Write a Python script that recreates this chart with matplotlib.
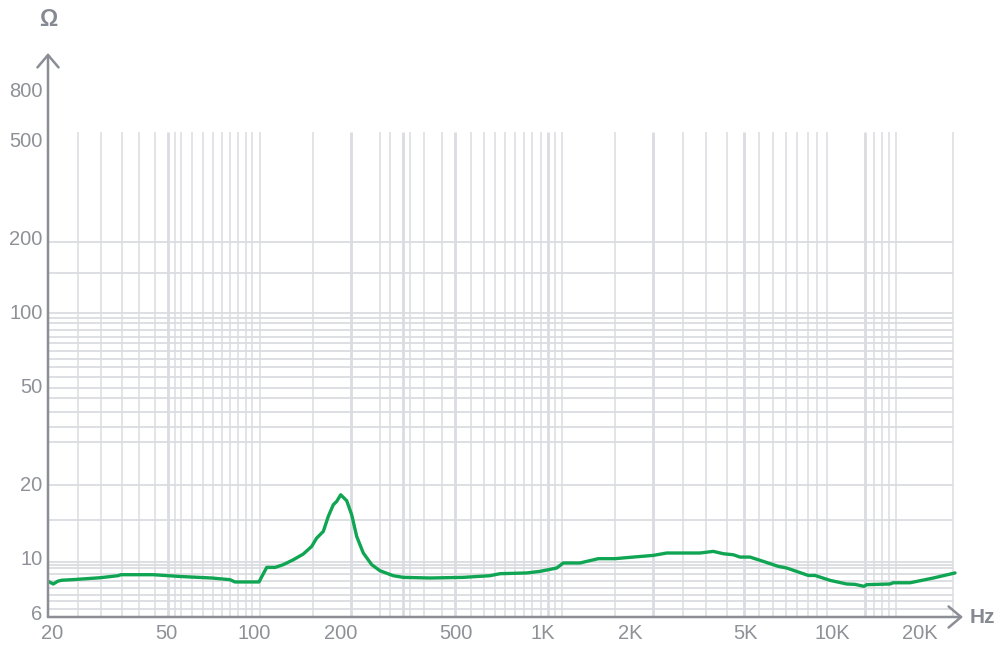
import matplotlib
matplotlib.use('Agg')
import matplotlib.pyplot as plt
from matplotlib.ticker import NullLocator

# ---- data ----
freq_hz = [19.46, 20.25, 21.02, 21.70, 23.50, 29.37, 33.89, 34.71, 44.78, 55.51,
           71.45, 82.64, 86.0, 104.1, 110.7, 118.3, 126.3, 136.8, 148.1, 158.3,
           164.8, 173.7, 180.7, 188.1, 193.2, 199.5, 209.3, 217.7, 226.6, 238.8,
           255.3, 272.8, 303.2, 328.3, 406.0, 529.3, 654.6, 708.8, 876.8, 974.5,
           1113, 1173, 1340, 1550, 1770, 2048, 2401, 2672, 3483, 3870,
           4192, 4539, 4787, 5184, 5764, 6494, 6943, 8246, 8697, 9800,
           11190, 11960, 12850, 13130, 15800, 16220, 18530, 22300, 26500]
impedance_ohm = [8.02, 7.83, 8.04, 8.11, 8.15, 8.30, 8.46, 8.54, 8.54, 8.40,
                 8.28, 8.15, 7.98, 7.98, 9.14, 9.14, 9.38, 9.82, 10.36, 11.12,
                 12.03, 12.80, 14.72, 16.43, 16.94, 18.03, 17.05, 14.96, 12.21, 10.46,
                 9.38, 8.86, 8.46, 8.33, 8.28, 8.33, 8.46, 8.62, 8.68, 8.81,
                 9.09, 9.53, 9.53, 9.92, 9.92, 10.07, 10.23, 10.46, 10.46, 10.62,
                 10.39, 10.29, 10.07, 10.07, 9.67, 9.23, 9.09, 8.48, 8.48, 8.10,
                 7.83, 7.80, 7.66, 7.78, 7.83, 7.92, 7.92, 8.28, 8.68]

xtick_hz = [20, 50, 100, 200, 500, 1000, 2000, 5000, 10000, 20000]
xtick_labels = ['20', '50', '100', '200', '500', '1K', '2K', '5K', '10K', '20K']
ytick_ohm = [6, 10, 20, 50, 100, 200, 500, 800]
ytick_labels = ['6', '10', '20', '50', '100', '200', '500', '800']

xgrid_hz = [24.7, 29.7, 35.0, 40.1, 45.4, 53.4, 56.0, 61.2, 66.5, 72.0, 77.5,
            82.6, 88.1, 93.6, 98.7, 104.7, 160.0, 273.4, 295.3, 346.2, 388.0,
            445.7, 562.8, 624.2, 679.6, 739.4, 796.8, 860.2, 916.9, 979.9, 1098,
            1161, 1775, 3035, 3644, 4317, 5556, 6241, 6905, 7537, 8227, 8857,
            9546, 13880, 14860, 15640, 16570, 26150]
xgrid_major_hz = [50.5, 217.4, 328.3, 495.5, 1041, 2391, 4955, 12950]
ygrid_ohm = [191.9, 143.9, 99.1, 94.0, 89.8, 83.8, 79.2, 74.5, 68.9, 64.3,
             59.3, 54.2, 48.9, 44.4, 39.1, 34.1, 29.6, 19.7, 14.3, 9.58,
             9.31, 9.09, 8.62, 8.08, 7.54, 7.08, 6.66, 6.22]

X_LIM = (19.42, 28240)
Y_LIM = (5.75, 1122)
GRID_TOP = 536
GRID_RIGHT = 26150

AXIS_COLOR = '#8b8e95'
TEXT_COLOR = '#8e9198'
UNIT_COLOR = '#858991'
GRID_COLOR = '#dadce1'
LINE_COLOR = '#10a553'

plt.rcParams['font.family'] = ['Liberation Sans', 'DejaVu Sans']

W, H = 998, 648
fig = plt.figure(figsize=(W / 100, H / 100), dpi=100)
ax = fig.add_axes([48 / W, 31 / H, (963 - 48) / W, (617 - 53) / H])
ax.set_xscale('log')
ax.set_yscale('log')
ax.set_xlim(*X_LIM)
ax.set_ylim(*Y_LIM)

for s in ax.spines.values():
    s.set_visible(False)

# grid
ax.hlines(ygrid_ohm, X_LIM[0], GRID_RIGHT, colors=GRID_COLOR, lw=1.3, zorder=1)
ax.vlines(xgrid_hz, Y_LIM[0], GRID_TOP, colors=GRID_COLOR, lw=1.1, zorder=1)
ax.vlines(xgrid_major_hz, Y_LIM[0], GRID_TOP, colors=GRID_COLOR, lw=2.0, zorder=1)

# curve
ax.plot(freq_hz, impedance_ohm, color=LINE_COLOR, lw=2.4, zorder=3,
        solid_joinstyle='round', solid_capstyle='round')

# ticks
ax.xaxis.set_minor_locator(NullLocator())
ax.yaxis.set_minor_locator(NullLocator())
ax.set_xticks(xtick_hz, labels=xtick_labels)
ax.set_yticks(ytick_ohm, labels=ytick_labels)
ax.tick_params(axis='both', length=0, labelsize=14.5, labelcolor=TEXT_COLOR)
ax.tick_params(axis='x', pad=5)
ax.tick_params(axis='y', pad=4)

# axis lines with open arrowheads
arrow_kw = dict(arrowstyle='->,head_length=0.45,head_width=0.38',
                color=AXIS_COLOR, lw=1.8, shrinkA=0, shrinkB=0,
                mutation_scale=20)
ax.annotate('', xy=(0, 1), xytext=(0, 0), xycoords='axes fraction',
            textcoords='axes fraction', arrowprops=arrow_kw, annotation_clip=False)
ax.annotate('', xy=(1, 0), xytext=(0, 0), xycoords='axes fraction',
            textcoords='axes fraction', arrowprops=arrow_kw, annotation_clip=False)

# axis unit labels
fig.text(48 / W, 1 - 19.5 / H, 'Ω', ha='center', va='center', fontsize=16.5,
         fontweight='bold', color=UNIT_COLOR)
fig.text(982.5 / W, 1 - 617.5 / H, 'Hz', ha='center', va='center', fontsize=15,
         fontweight='bold', color=UNIT_COLOR)

fig.savefig('out.png', dpi=100)
